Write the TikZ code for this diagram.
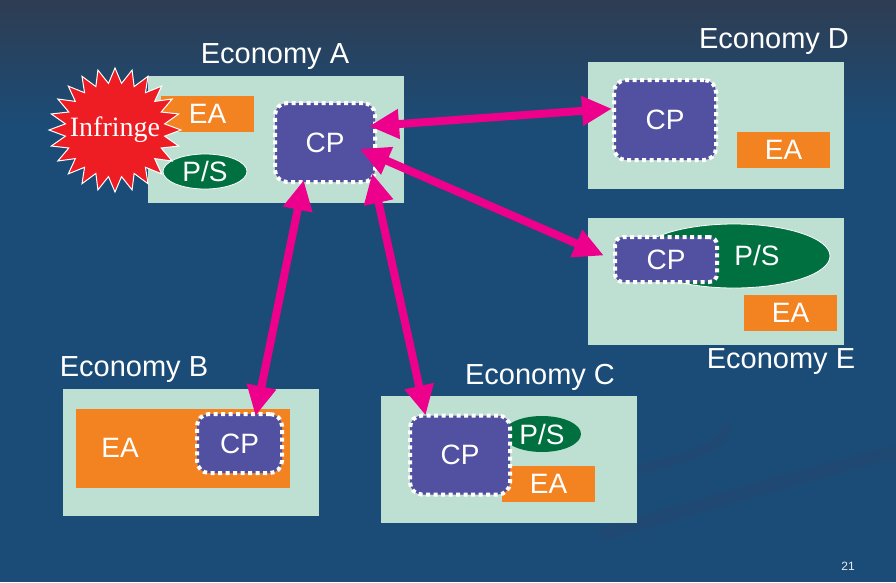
\documentclass[tikz,border=0pt]{standalone}
\usepackage{fontspec}
\setmainfont{Liberation Sans}
\newfontfamily\burstfont{Liberation Serif}
\usetikzlibrary{arrows.meta,shapes.geometric}

\definecolor{slide}{HTML}{1B4C77}
\definecolor{slidetop}{HTML}{2E3D52}
\definecolor{streak}{HTML}{224870}
\definecolor{mint}{HTML}{BEE0D3}
\definecolor{eaorange}{HTML}{F38321}
\definecolor{cppurple}{HTML}{5250A0}
\definecolor{psgreen}{HTML}{007040}
\definecolor{linkpink}{HTML}{EC008C}
\definecolor{burstred}{HTML}{EE1D24}

\tikzset{
  economy/.style={fill=mint, minimum width=256pt, minimum height=127pt, inner sep=0pt},
  ecolabel/.style={text=white, font=\fontsize{29}{29}\selectfont, inner sep=0pt},
  eabox/.style={fill=eaorange, text=white, font=\fontsize{28}{28}\selectfont,
    minimum width=93pt, minimum height=36pt, inner sep=0pt},
  cpbox/.style={fill=cppurple, draw=white, line width=4pt, dash pattern=on 4pt off 3.5pt,
    rounded corners=12pt, text=white, font=\fontsize{28}{28}\selectfont,
    minimum width=100pt, minimum height=79pt, inner sep=0pt},
  psoval/.style={ellipse, fill=psgreen, text=white, font=\fontsize{28}{28}\selectfont, inner sep=0pt},
  link/.style={linkpink, line width=8pt, {Triangle[length=30pt,width=28pt]}-{Triangle[length=30pt,width=28pt]}},
}

\begin{document}
\begin{tikzpicture}[x=1pt, y=-1pt]
\useasboundingbox (0,0) rectangle (896,582);
% background of the slide
\fill[slide] (0,0) rectangle (896,582);
\shade[top color=slidetop, bottom color=slide] (0,0) rectangle (896,125);
\draw[streak, opacity=0.7, line width=14pt] (600,535) .. controls (720,500) and (820,470) .. (896,452);
\draw[streak, opacity=0.7, line width=10pt] (637,470) .. controls (700,455) and (725,445) .. (727,425);

% economies
\node[economy] (boxA) at (275.5,139) {};
\node[economy] (boxD) at (715.5,125) {};
\node[economy] (boxE) at (715.5,281) {};
\node[economy] (boxB) at (190.5,452) {};
\node[economy] (boxC) at (509,459) {};
\node[ecolabel] (labA) at (275,57) {Economy A};
\node[ecolabel] (labD) at (774,42) {Economy D};
\node[ecolabel] (labE) at (781,362) {Economy E};
\node[ecolabel] (labB) at (134,370) {Economy B};
\node[ecolabel] (labC) at (540,377) {Economy C};

% Economy A
\node[eabox] (eaA) at (207.5,114) {EA};
\node[psoval, draw=white, line width=0.8pt, minimum width=84pt, minimum height=35pt] (psA) at (205,171.5) {P/S};
\node[cpbox] (cpA) at (325,142.5) {CP};
% the infringe burst
\draw[shift={(115,130)}, fill=burstred, draw=white, line width=1pt] (0:66 and 62)
  \foreach \i in {0,...,23} { -- ({\i*15+7.5}:50 and 47) -- ({\i*15+15}:66 and 62) } -- cycle;
\node[text=white, font=\burstfont\fontsize{28}{28}\selectfont, inner sep=0pt] (infringe) at (115,130) {Infringe};

% Economy D
\node[cpbox, minimum width=102pt, minimum height=80pt] (cpD) at (665,120) {CP};
\node[eabox] (eaD) at (783.5,149.5) {EA};

% Economy E
\node[psoval, draw=white, line width=0.8pt, minimum width=192pt, minimum height=64pt] (psE) at (734,256) {};
\node[text=white, font=\fontsize{28}{28}\selectfont, inner sep=0pt] (psEtxt) at (757,255) {P/S};
\node[cpbox, rounded corners=8pt, minimum width=102pt, minimum height=45pt] (cpE) at (666,259.5) {CP};
\node[eabox] (eaE) at (790.5,313) {EA};

% Economy B
\node[fill=eaorange, minimum width=214pt, minimum height=79pt, inner sep=0pt] (eaB) at (183,448.5) {};
\node[text=white, font=\fontsize{28}{28}\selectfont, inner sep=0pt] (eaBtxt) at (120,448) {EA};
\node[cpbox, minimum width=85pt, minimum height=59pt] (cpB) at (239.5,443.5) {CP};

% Economy C
\node[psoval, minimum width=78pt, minimum height=36pt] (psC) at (542,434) {P/S};
\node[eabox] (eaC) at (548.5,484) {EA};
\node[cpbox] (cpC) at (460,455) {CP};

% links between the CPs
\draw[link, shorten <=-8pt] (cpA.18) -- (cpD.168);
\draw[link, shorten <=-19pt, shorten >=10pt] (cpA.-15) -- (cpE.west);
\draw[link, shorten <=-4pt, shorten >=-4pt] (cpA.242) -- (cpB.62);
\draw[link, shorten <=-11pt, shorten >=-2pt] (cpA.-40) -- (cpC.130);

\node[text=white!90!slide, font=\fontsize{12}{12}\selectfont, inner sep=0pt] (pageno) at (848,566) {21};
\end{tikzpicture}
\end{document}
